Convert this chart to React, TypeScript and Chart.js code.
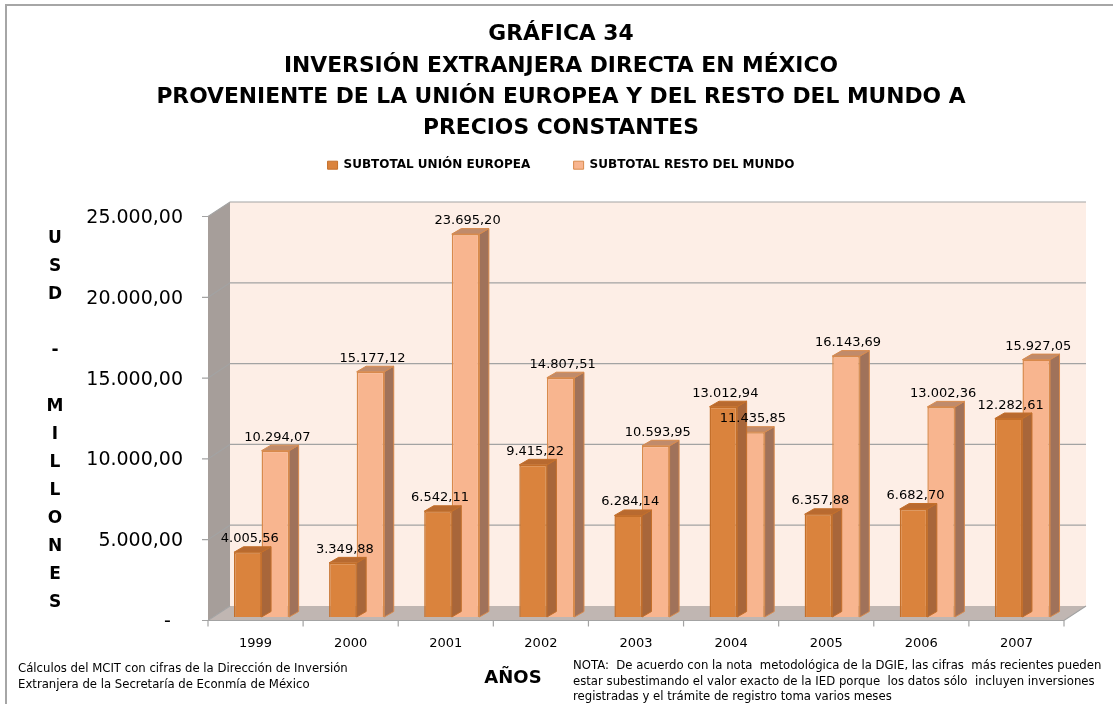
import React, { useEffect, useRef } from 'react';
import { Chart, registerables } from 'chart.js';

Chart.register(...registerables);

const years = ['1999', '2000', '2001', '2002', '2003', '2004', '2005', '2006', '2007'];
const euValues = [4005.56, 3349.88, 6542.11, 9415.22, 6284.14, 13012.94, 6357.88, 6682.7, 12282.61];
const restValues = [10294.07, 15177.12, 23695.2, 14807.51, 10593.95, 11435.85, 16143.69, 13002.36, 15927.05];
const seriesNames = ['SUBTOTAL UNIÓN EUROPEA', 'SUBTOTAL RESTO DEL MUNDO'];
const titleLines = [
  'GRÁFICA 34',
  'INVERSIÓN EXTRANJERA DIRECTA EN MÉXICO',
  'PROVENIENTE DE LA UNIÓN EUROPEA Y DEL RESTO DEL MUNDO A',
  'PRECIOS CONSTANTES',
];
const yTitleLetters = ['U', 'S', 'D', '', '-', '', 'M', 'I', 'L', 'L', 'O', 'N', 'E', 'S'];
const xTitle = 'AÑOS';
const sourceNote = [
  'Cálculos del MCIT con cifras de la Dirección de Inversión',
  'Extranjera de la Secretaría de Econmía de México',
];
const methodNote = [
  'NOTA:  De acuerdo con la nota  metodológica de la DGIE, las cifras  más recientes pueden',
  'estar subestimando el valor exacto de la IED porque  los datos sólo  incluyen inversiones',
  'registradas y el trámite de registro toma varios meses',
];
const yMin = 0;
const yMax = 25000;
const yStep = 5000;

const FONT = 'DejaVu Sans';
const FRONT = { dx: -6, dy: 3.5 };
const BACK = { dx: 16, dy: -11 };
const DEPTH = { dx: 9.5, dy: -5.5 };

const frontColors = ['#DA833D', '#F8B58F'];
const borderColors = ['#C46F2A', '#D88A4C'];
const sideColors = ['#A8663A', '#A0725A'];
const topColors = ['#B86A30', '#C08B6B'];

function fmt(v: number): string {
  const [i, d] = v.toFixed(2).split('.');
  return i.replace(/\B(?=(\d{3})+(?!\d))/g, '.') + ',' + d;
}

function poly(ctx: CanvasRenderingContext2D, pts: number[][], fill?: string, stroke?: string) {
  ctx.beginPath();
  ctx.moveTo(pts[0][0], pts[0][1]);
  for (let i = 1; i < pts.length; i++) ctx.lineTo(pts[i][0], pts[i][1]);
  ctx.closePath();
  if (fill) {
    ctx.fillStyle = fill;
    ctx.fill();
  }
  if (stroke) {
    ctx.strokeStyle = stroke;
    ctx.lineWidth = 1;
    ctx.stroke();
  }
}

const threeDPlugin = {
  id: 'threeD',
  beforeDatasetsDraw(chart: any) {
    const { ctx, chartArea: ca, scales } = chart;
    const ys = scales.y;
    const xs = scales.x;
    const L = ca.left, R = ca.right, T = ca.top, B = ca.bottom;
    ctx.save();
    poly(ctx, [
      [L + FRONT.dx, B + FRONT.dy],
      [L + FRONT.dx, T + FRONT.dy],
      [L + BACK.dx, T + BACK.dy],
      [L + BACK.dx, B + BACK.dy],
    ], '#A69E9A');
    ctx.fillStyle = '#FDEEE6';
    ctx.fillRect(L + BACK.dx, T + BACK.dy, R - L, B - T);
    poly(ctx, [
      [L + FRONT.dx, B + FRONT.dy],
      [R + FRONT.dx, B + FRONT.dy],
      [R + BACK.dx, B + BACK.dy],
      [L + BACK.dx, B + BACK.dy],
    ], '#C0B6B2');
    ctx.strokeStyle = '#A3A3A3';
    ctx.lineWidth = 1.2;
    ys.ticks.forEach((t: any) => {
      const py = ys.getPixelForValue(t.value);
      ctx.beginPath();
      ctx.moveTo(L + FRONT.dx - 6, py + FRONT.dy);
      ctx.lineTo(L + FRONT.dx, py + FRONT.dy);
      ctx.lineTo(L + BACK.dx, py + BACK.dy);
      if (t.value !== yMin) ctx.lineTo(R + BACK.dx, py + BACK.dy);
      ctx.stroke();
    });
    ctx.beginPath();
    ctx.moveTo(L + FRONT.dx, B + FRONT.dy);
    ctx.lineTo(R + FRONT.dx, B + FRONT.dy);
    ctx.lineTo(R + BACK.dx, B + BACK.dy);
    ctx.stroke();
    const step = xs.getPixelForValue(1) - xs.getPixelForValue(0);
    for (let i = 0; i <= years.length; i++) {
      const px = xs.getPixelForValue(0) - step / 2 + i * step + FRONT.dx;
      ctx.beginPath();
      ctx.moveTo(px, B + FRONT.dy);
      ctx.lineTo(px, B + FRONT.dy + 6);
      ctx.stroke();
    }
    ctx.restore();
  },
  afterDatasetDraw(chart: any, args: any) {
    const { ctx } = chart;
    const idx = args.index;
    ctx.save();
    args.meta.data.forEach((bar: any) => {
      const { x, y, base, width } = bar.getProps(['x', 'y', 'base', 'width'], true);
      const x0 = x - width / 2;
      const x1 = x + width / 2;
      poly(ctx, [
        [x1, y],
        [x1 + DEPTH.dx, y + DEPTH.dy],
        [x1 + DEPTH.dx, base + DEPTH.dy],
        [x1, base],
      ], sideColors[idx], borderColors[idx]);
      poly(ctx, [
        [x0, y],
        [x1, y],
        [x1 + DEPTH.dx, y + DEPTH.dy],
        [x0 + DEPTH.dx, y + DEPTH.dy],
      ], topColors[idx], borderColors[idx]);
    });
    ctx.restore();
  },
  afterDatasetsDraw(chart: any) {
    const { ctx } = chart;
    ctx.save();
    ctx.font = `13px "${FONT}"`;
    ctx.fillStyle = '#000';
    ctx.textAlign = 'center';
    ctx.textBaseline = 'alphabetic';
    chart.data.datasets.forEach((ds: any, di: number) => {
      const meta = chart.getDatasetMeta(di);
      meta.data.forEach((bar: any, i: number) => {
        const { x, y } = bar.getProps(['x', 'y'], true);
        ctx.fillText(fmt(ds.data[i]), x + 2, y - 10);
      });
    });
    ctx.restore();
  },
  afterDraw(chart: any) {
    const { ctx } = chart;
    ctx.save();
    ctx.strokeStyle = '#A6A6A6';
    ctx.lineWidth = 2;
    ctx.beginPath();
    ctx.moveTo(6, 704);
    ctx.lineTo(6, 5);
    ctx.lineTo(1113, 5);
    ctx.stroke();
    ctx.fillStyle = '#000';
    ctx.font = `bold 17px "${FONT}"`;
    ctx.textAlign = 'center';
    ctx.textBaseline = 'middle';
    yTitleLetters.forEach((ch, i) => {
      if (ch) ctx.fillText(ch, 55, 239 + i * 28);
    });
    ctx.font = `bold 18px "${FONT}"`;
    ctx.fillText(xTitle, 513, 678);
    ctx.font = `11.7px "${FONT}"`;
    ctx.textAlign = 'left';
    sourceNote.forEach((s, i) => ctx.fillText(s, 18, 669 + i * 15.5));
    methodNote.forEach((s, i) => ctx.fillText(s, 573, 666 + i * 15.5));
    ctx.restore();
  },
};

export default function App() {
  const ref = useRef<HTMLCanvasElement | null>(null);
  useEffect(() => {
    if (!ref.current) return;
    const chart = new Chart(ref.current, {
      type: 'bar',
      data: {
        labels: years,
        datasets: [
          {
            label: seriesNames[0],
            data: euValues,
            backgroundColor: frontColors[0],
            borderColor: borderColors[0],
            borderWidth: 1.5,
            xAxisID: 'x',
            yAxisID: 'y',
            barPercentage: 1,
            categoryPercentage: 0.58,
          },
          {
            label: seriesNames[1],
            data: restValues,
            backgroundColor: frontColors[1],
            borderColor: borderColors[1],
            borderWidth: 1.5,
            xAxisID: 'x',
            yAxisID: 'y',
            barPercentage: 1,
            categoryPercentage: 0.58,
          },
        ],
      },
      options: {
        responsive: false,
        animation: false,
        devicePixelRatio: 1,
        layout: { padding: { left: 52, right: 43, top: 0, bottom: 0 } },
        plugins: {
          title: {
            display: true,
            text: titleLines,
            color: '#000',
            font: { family: FONT, weight: 'bold', size: 21.8, lineHeight: '31.3px' },
            padding: { top: 19, bottom: 5 },
          },
          legend: {
            display: true,
            position: 'top',
            labels: {
              boxWidth: 10,
              boxHeight: 8,
              padding: 10,
              color: '#000',
              font: { family: FONT, weight: 'bold', size: 12 },
              generateLabels: (c: any) => {
                const items = (Chart as any).defaults.plugins.legend.labels.generateLabels(c);
                items.forEach((it: any) => { it.lineWidth = 1; });
                items[0].text = items[0].text + '        ';
                return items;
              },
            },
          },
          tooltip: { enabled: false },
        },
        scales: {
          x: {
            type: 'category',
            grid: { display: false, drawTicks: false },
            border: { display: false },
            ticks: {
              color: '#000',
              font: { family: FONT, size: 13 },
              padding: 19,
              labelOffset: -6,
              maxRotation: 0,
              autoSkip: false,
            },
            afterFit: (s: any) => { s.height = 87; },
          },
          y: {
            min: yMin,
            max: yMax,
            grid: { display: false, drawTicks: false },
            border: { display: false },
            ticks: {
              stepSize: yStep,
              color: '#000',
              font: { family: FONT, size: 19 },
              padding: 31,
              labelOffset: 5,
              callback: (v: any) => (Number(v) === 0 ? '-  ' : fmt(Number(v))),
            },
            afterFit: (s: any) => { s.width = 162; },
          },
          gap: {
            type: 'linear',
            position: 'top',
            display: true,
            grid: { display: false, drawTicks: false },
            border: { display: false },
            ticks: { display: false },
            afterFit: (s: any) => { s.height = 31.8; },
          },
        },
      } as any,
      plugins: [threeDPlugin],
    });
    return () => chart.destroy();
  }, []);
  return (
    <div style={{ position: 'absolute', left: 0, top: 0, width: 1113, height: 704 }}>
      <canvas ref={ref} width={1113} height={704} style={{ display: 'block' }} />
    </div>
  );
}
